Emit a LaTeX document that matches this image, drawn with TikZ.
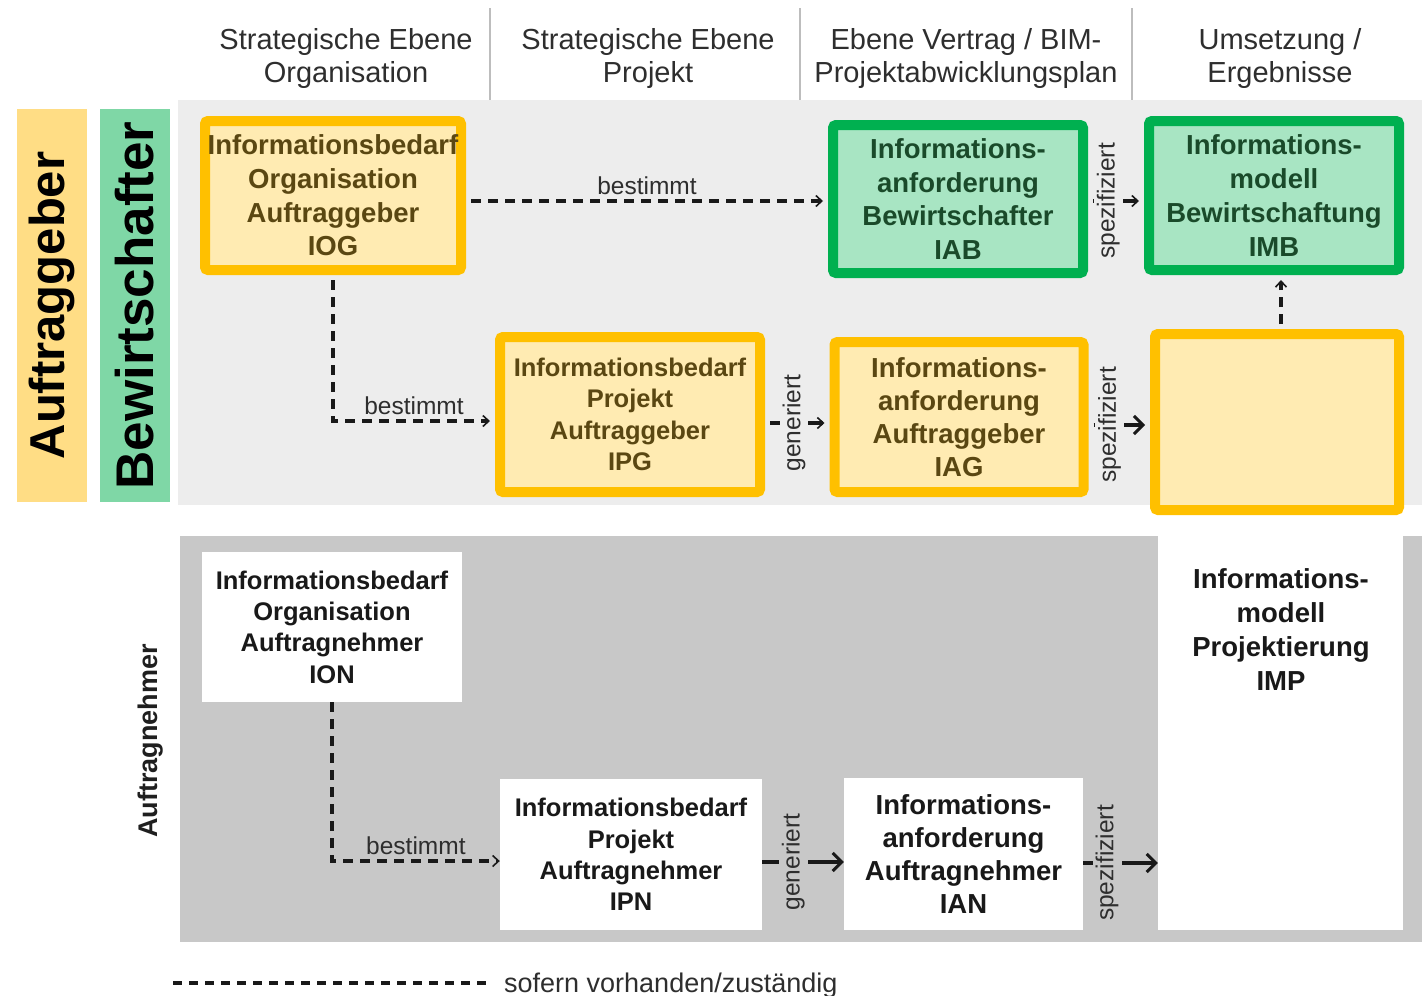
\documentclass[tikz,border=0pt]{standalone}
\usepackage{fontspec}
\setmainfont{Liberation Sans}
\usetikzlibrary{arrows.meta}
\definecolor{ybord}{HTML}{FFC000}
\definecolor{yfill}{HTML}{FFEBB2}
\definecolor{ytext}{HTML}{5A4712}
\definecolor{gbord}{HTML}{00B050}
\definecolor{gfill}{HTML}{A8E5C3}
\definecolor{gtext}{HTML}{1A4A2A}
\definecolor{ylab}{HTML}{FFDD85}
\definecolor{glab}{HTML}{7FD7A6}
\definecolor{bgtop}{HTML}{EDEDED}
\definecolor{bgbot}{HTML}{C8C8C8}
\definecolor{sepgray}{HTML}{BDBDBD}
\definecolor{txt}{HTML}{2E2E2E}
\begin{document}
\begin{tikzpicture}[x=1pt,y=-1pt,
  boxbase/.style={inner sep=0pt, align=center},
  ybox/.style={boxbase, draw=ybord, fill=yfill, line width=10pt, rounded corners=3pt, text=ytext},
  gbox/.style={boxbase, draw=gbord, fill=gfill, line width=10pt, rounded corners=3pt, text=gtext},
  wbox/.style={boxbase, fill=white, text=black!90},
  bigf/.style={font=\bfseries\fontsize{27.5}{33.7}\selectfont},
  midf/.style={font=\bfseries\fontsize{27.5}{33}\selectfont},
  smallf/.style={font=\bfseries\fontsize{25.5}{31.3}\selectfont},
  hdr/.style={align=center, text=txt, font=\fontsize{29}{33}\selectfont},
  lbl/.style={text=txt, font=\fontsize{24.5}{28}\selectfont, inner sep=2pt},
  lblv/.style={rotate=90, text=txt, font=\fontsize{24.5}{28}\selectfont, inner xsep=0pt, inner ysep=3pt},
  dashline/.style={draw=black!90, line width=3.3pt, dash pattern=on 10pt off 7pt},
  sline/.style={draw=black!90, line width=3.2pt},
  tipS/.style={-{Straight Barb[length=6pt,width=11pt,line width=1.6pt]}},
  tipB/.style={-{Straight Barb[length=9pt,width=18pt,line width=3pt]}},
  sh/.style={shorten <=5pt, shorten >=5pt}
]
\useasboundingbox (0,0) rectangle (1422,996);
% backgrounds
\fill[bgtop] (178,100) rectangle (1422,505);
\fill[bgbot] (180,536) rectangle (1422,942);
% header separators
\foreach \xx in {490,800,1132} \draw[sepgray, line width=2.5pt] (\xx,8) -- (\xx,100);
% headers
\node[hdr] (h1) at (346,59) {Strategische Ebene\\Organisation};
\node[hdr] (h2) at (648,59) {Strategische Ebene\\Projekt};
\node[hdr] (h3) at (966,59) {Ebene Vertrag / BIM-\\Projektabwicklungsplan};
\node[hdr] (h4) at (1280,59) {Umsetzung /\\Ergebnisse};
% left labels
\node[rotate=90, fill=ylab, minimum width=393pt, minimum height=70pt, inner sep=0pt, font=\bfseries\fontsize{49}{51}\selectfont] (lag) at (52,305.5) {Auftraggeber};
\node[rotate=90, fill=glab, minimum width=393pt, minimum height=70pt, inner sep=0pt, font=\bfseries\fontsize{53}{55}\selectfont] (lbw) at (135,305.5) {Bewirtschafter};
\node[rotate=90, text=black!88, font=\bfseries\fontsize{27}{30}\selectfont] (lan) at (151,741) {Auftragnehmer};
% upper boxes
\node[ybox, bigf, minimum width=256pt, minimum height=149pt] (IOG) at (333,195.5) {Informationsbedarf\\Organisation\\Auftraggeber\\IOG};
\node[gbox, bigf, minimum width=250pt, minimum height=148pt] (IAB) at (958,199) {Informations-\\anforderung\\Bewirtschafter\\IAB};
\node[gbox, bigf, minimum width=250pt, minimum height=149pt] (IMB) at (1274,195.5) {Informations-\\modell\\Bewirtschaftung\\IMB};
\node[ybox, smallf, minimum width=260pt, minimum height=155pt] (IPG) at (630,414.5) {Informationsbedarf\\Projekt\\Auftraggeber\\IPG};
\node[ybox, midf, minimum width=249pt, minimum height=150pt] (IAG) at (959,417) {Informations-\\anforderung\\Auftraggeber\\IAG};
\node[ybox, minimum width=244pt, minimum height=176pt] (EMP) at (1277,422) {};
% lower boxes
\node[wbox, smallf, minimum width=260pt, minimum height=150pt] (ION) at (332,627) {Informationsbedarf\\Organisation\\Auftragnehmer\\ION};
\node[wbox, smallf, minimum width=262pt, minimum height=151pt] (IPN) at (631,854.5) {Informationsbedarf\\Projekt\\Auftragnehmer\\IPN};
\node[wbox, midf, minimum width=239pt, minimum height=152pt] (IAN) at (963.5,854) {Informations-\\anforderung\\Auftragnehmer\\IAN};
\node[wbox, minimum width=245pt, minimum height=394pt] (IMPcol) at (1280.5,733) {};
\node[boxbase, bigf, text=black!90] (IMP) at (1281,629.5) {Informations-\\modell\\Projektierung\\IMP};
% connectors upper
\draw[dashline, sh, tipS] (IOG.east |- IAB.west) ++(0,2) -- ([yshift=-2pt]IAB.west)
  node[midway, above=3pt, lbl] {bestimmt};
\draw[dashline, sh, tipS] (IOG.south) |- ([yshift=-6.5pt]IPG.west)
  node[pos=0.75, above=3pt, lbl] {bestimmt};
\draw[sline, sh, tipS] ([yshift=-8.5pt]IPG.east) -- ([yshift=-8.5pt]IPG.east -| IAG.west)
  node[pos=0.45, lblv, fill=bgtop] {generiert};
\draw[sline, sh, tipB] ([yshift=-8pt]IAG.east) -- ([yshift=-8pt]IAG.east -| EMP.west)
  node[pos=0.34, lblv, fill=bgtop] {spezifiziert};
\draw[sline, sh, tipS] ([yshift=-2pt]IAB.east) -- ([yshift=-2pt]IAB.east -| IMB.west)
  node[pos=0.36, lblv, fill=bgtop] {spezifiziert};
\draw[dashline, sh, tipS] ([xshift=4pt]EMP.north) -- ([xshift=4pt]EMP.north |- IMB.south);
% connectors lower
\draw[dashline, tipS] (ION.south) |- ([yshift=-6.5pt]IPN.west)
  node[pos=0.75, above=3pt, lbl] {bestimmt};
\draw[sline, tipB] ([yshift=-7.5pt]IPN.east) -- ([yshift=-7.5pt]IPN.east -| IAN.west)
  node[pos=0.38, lblv, fill=bgbot] {generiert};
\draw[sline, tipB] ([yshift=-9pt]IAN.east) -- ([yshift=-9pt]IAN.east -| IMPcol.west)
  node[pos=0.32, lblv, fill=bgbot] {spezifiziert};
% legend
\coordinate (legA) at (173,983);
\coordinate (legB) at (487,983);
\draw[dashline, line width=3.5pt, dash pattern=on 9pt off 7pt] (legA) -- (legB);
\node[anchor=west, inner sep=0pt, text=txt, font=\fontsize{27}{30}\selectfont] (leg) at (504,986) {sofern vorhanden/zuständig};
\end{tikzpicture}
\end{document}
